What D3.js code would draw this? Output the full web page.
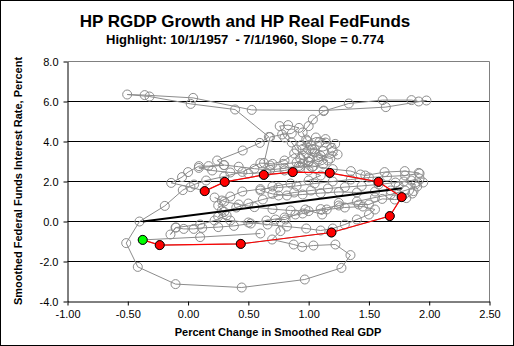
<!DOCTYPE html>
<html>
<head>
<meta charset="utf-8">
<script src="https://cdn.jsdelivr.net/npm/d3@7"></script>
<style>
  body { margin: 0; background: #fff; }
  svg { display: block; font-family: Arial, "Liberation Sans", sans-serif; }
</style>
</head>
<body>
<svg id="chart" width="514" height="346"></svg>
<script>
//
// Data
//

var title = 'HP RGDP Growth and HP Real FedFunds'
var subtitle = 'Highlight: 10/1/1957  - 7/1/1960, Slope = 0.774'
var xTitle = 'Percent Change in Smoothed Real GDP'
var yTitle = 'Smoothed Federal Funds Interest Rate, Percent'

var xTicks = [-1, -0.5, 0, 0.5, 1, 1.5, 2, 2.5]
var yTicks = [-4, -2, 0, 2, 4, 6, 8]

// highlighted quarters 10/1/1957 .. 7/1/1960 : [rgdp growth, real fed funds]
var highlight = [
  [-0.376, -0.92], [-0.235, -1.18], [0.437, -1.12], [1.189, -0.55],
  [1.673, 0.27], [1.772, 1.22], [1.579, 1.98], [1.175, 2.43],
  [0.868, 2.47], [0.628, 2.33], [0.304, 1.98], [0.138, 1.52]
]

var slope = 0.774
var intercept = 0.29

// full history, in time order
var quarters = [
  [0.60, -0.60], [0.10, -0.78],
  [-0.376, -0.92], [-0.235, -1.18], [0.437, -1.12], [1.189, -0.55],
  [1.673, 0.27], [1.772, 1.22], [1.579, 1.98], [1.175, 2.43],
  [0.868, 2.47], [0.628, 2.33], [0.304, 1.98], [0.138, 1.52],
  [0.02, 1.72], [-0.14, 1.93], [-0.05, 2.22], [0.00, 2.47], [0.09, 2.77],
  [0.17, 2.77], [0.30, 2.82], [0.42, 2.74], [0.55, 2.64], [0.68, 2.58],
  [0.80, 2.66], [0.92, 2.78], [1.03, 2.72], [1.12, 2.86], [1.16, 3.05],
  [1.08, 3.22], [0.98, 3.40], [0.95, 3.62], [1.02, 3.80], [1.09, 3.98],
  [1.14, 4.12], [1.06, 4.20], [0.99, 4.02], [0.94, 3.82], [1.03, 3.62],
  [1.12, 3.52], [1.19, 3.68], [1.22, 3.88], [1.14, 3.95], [1.05, 3.45],
  [1.10, 3.28], [1.18, 3.15], [1.24, 3.35], [1.20, 3.52], [1.08, 3.10],
  [1.00, 2.98], [0.93, 3.15], [0.88, 3.40],
  [0.80, 3.05], [0.70, 2.88], [0.60, 2.92], [0.45, 2.48], [0.30, 2.25],
  [0.15, 2.05], [0.05, 1.85], [-0.044, 1.57], [-0.193, 0.78], [-0.403, 0.00],
  [-0.513, -1.08], [-0.417, -2.27], [-0.104, -3.13], [0.445, -3.30],
  [0.968, -2.90], [1.272, -2.32], [1.347, -1.68], [1.222, -1.15],
  [1.04, -1.20], [0.946, -1.27], [0.876, -1.15], [0.697, -0.90],
  [0.766, -0.48], [0.725, 0.10], [0.808, 0.10], [0.89, 0.35], [0.973, 0.60],
  [1.112, 0.35], [1.25, 0.93], [1.415, 0.85], [1.50, 0.85], [1.61, 1.13],
  [1.714, 1.10], [1.81, 1.17], [1.86, 1.40], [1.87, 1.52], [1.885, 1.85],
  [1.79, 2.00], [1.747, 1.77], [1.68, 1.55],
  [1.55, 1.50], [1.40, 1.45], [1.25, 1.48], [1.10, 1.42], [0.95, 1.35],
  [0.82, 1.30], [0.70, 1.38], [0.60, 1.55], [0.70, 1.75], [0.85, 1.90],
  [1.00, 2.05], [1.10, 2.30], [1.00, 2.55], [0.95, 2.90], [1.00, 3.20],
  [1.05, 3.60], [0.98, 4.10], [0.95, 4.45], [1.00, 4.77], [1.035, 5.10],
  [1.125, 5.52], [1.333, 5.90], [1.614, 6.07], [1.853, 6.07], [1.913, 6.00],
  [1.977, 6.05], [1.64, 5.72], [1.125, 5.55], [0.528, 5.58], [0.042, 6.18],
  [-0.36, 6.32], [-0.505, 6.35], [-0.32, 6.25], [0.022, 5.88], [0.39, 5.60],
  [0.67, 4.23], [0.595, 3.93], [0.453, 3.55], [0.241, 3.05], [0.296, 2.82],
  [0.089, 2.68],
  [0.20, 2.55], [0.35, 2.45], [0.50, 2.40], [0.65, 2.45], [0.80, 2.55],
  [0.93, 2.72], [1.00, 3.00], [0.96, 3.30], [0.90, 3.60], [0.86, 3.95],
  [0.80, 4.20], [0.76, 4.77], [0.83, 4.82], [0.92, 4.68], [0.86, 4.40],
  [0.78, 4.35], [0.68, 4.22], [0.63, 2.93], [0.68, 2.80], [0.79, 2.88],
  [0.90, 2.95], [1.04, 2.77], [1.20, 2.62], [1.35, 2.52], [1.43, 2.35],
  [1.47, 2.30], [1.63, 2.47], [1.797, 2.52], [1.913, 2.43], [1.92, 2.40],
  [1.80, 2.30], [1.65, 2.25], [1.50, 2.20], [1.35, 2.10], [1.20, 2.00],
  [1.05, 1.90], [0.90, 1.78], [0.75, 1.70], [0.60, 1.62], [0.45, 1.50],
  [0.35, 1.25], [0.28, 1.05], [0.25, 0.80], [0.28, 0.55], [0.32, 0.30],
  [0.22, 0.05],
  [0.10, -0.15], [-0.10, -0.30], [-0.146, -0.65], [-0.104, -0.30],
  [-0.036, -0.37], [0.047, -0.37], [0.117, -0.32], [0.25, -0.28],
  [0.38, -0.22], [0.52, -0.10], [0.65, 0.05], [0.80, 0.20], [0.95, 0.40],
  [1.10, 0.62], [1.25, 0.80], [1.40, 1.00], [1.55, 1.20], [1.68, 1.35],
  [1.80, 1.55], [1.90, 1.75], [1.95, 1.95], [1.92, 2.15], [1.85, 2.05],
  [1.72, 1.95], [1.58, 1.85], [1.44, 1.78], [1.30, 1.72], [1.16, 1.65],
  [1.02, 1.55], [0.88, 1.45], [0.75, 1.30], [0.62, 1.10], [0.50, 0.90],
  [0.40, 0.70], [0.30, 0.48], [0.25, 0.25], [0.35, 0.05], [0.50, -0.05],
  [0.66, -0.15], [0.82, -0.25], [0.98, -0.35], [1.10, -0.45], [1.20, -0.35],
  [1.30, -0.15], [1.40, 0.10], [1.50, 0.35], [1.55, 0.60], [1.45, 0.75],
  [1.30, 0.70], [1.15, 0.60], [1.00, 0.52], [0.85, 0.55], [0.70, 0.62],
  [0.55, 0.72], [0.42, 0.85], [0.30, 1.00], [0.22, 1.20]
]

//
// Layout
//

var svg = d3.select('#chart')
var plotLeft = 67.5, plotRight = 489.5, plotTop = 61.5, plotBottom = 301.5

var x = d3.scaleLinear().domain([-1, 2.5]).range([plotLeft, plotRight])
var y = d3.scaleLinear().domain([-4, 8]).range([plotBottom, plotTop])

// excel style labels: plain hyphen for minus
function fmt(spec) {
  var f = d3.format(spec)
  return function (d) { return f(d).replace('\u2212', '-') }
}

svg.append('rect')
  .attr('x', 0.5).attr('y', 0.5)
  .attr('width', 513).attr('height', 345)
  .attr('fill', '#fff').attr('stroke', '#000')

// titles
svg.append('text')
  .attr('x', 245).attr('y', 27)
  .attr('text-anchor', 'middle')
  .style('font-size', '17px').style('font-weight', 'bold')
  .text(title)

svg.append('text')
  .attr('x', 245).attr('y', 44)
  .attr('text-anchor', 'middle')
  .style('font-size', '13px').style('font-weight', 'bold')
  .style('white-space', 'pre')
  .text(subtitle)

// plot frame, gridlines
svg.append('g')
  .selectAll('line')
  .data(yTicks.filter(function (d) { return d > -4 && d < 8 }))
  .join('line')
  .attr('x1', plotLeft).attr('x2', plotRight)
  .attr('y1', function (d) { return y(d) })
  .attr('y2', function (d) { return y(d) })
  .attr('stroke', '#000')

svg.append('path')
  .attr('d', 'M' + plotLeft + ',' + plotTop + 'H' + plotRight + 'V' + plotBottom)
  .attr('fill', 'none').attr('stroke', '#808080')

// axes
svg.append('g')
  .attr('transform', 'translate(' + plotLeft + ',0)')
  .call(d3.axisLeft(y).tickValues(yTicks).tickFormat(fmt('.1f'))
    .tickSizeInner(4).tickSizeOuter(0).tickPadding(5))

svg.append('g')
  .attr('transform', 'translate(0,' + plotBottom + ')')
  .call(d3.axisBottom(x).tickValues(xTicks).tickFormat(fmt('.2f'))
    .tickSizeInner(4).tickSizeOuter(0).tickPadding(5))

svg.selectAll('.tick text')
  .style('font-size', '11px')
  .style('font-family', 'Arial, "Liberation Sans", sans-serif')
  .attr('fill', '#000')
svg.selectAll('.domain, .tick line').attr('stroke', '#000')

svg.append('text')
  .attr('x', 278).attr('y', 336)
  .attr('text-anchor', 'middle')
  .style('font-size', '11px').style('font-weight', 'bold')
  .text(xTitle)

svg.append('text')
  .attr('transform', 'translate(22,181) rotate(-90)')
  .attr('text-anchor', 'middle')
  .style('font-size', '11px').style('font-weight', 'bold')
  .text(yTitle)

//
// Marks
//

var line = d3.line()
  .x(function (d) { return x(d[0]) })
  .y(function (d) { return y(d[1]) })

svg.append('path')
  .datum(quarters)
  .attr('d', line)
  .attr('fill', 'none').attr('stroke', '#8c8c8c').attr('stroke-width', 1)

svg.append('g')
  .selectAll('circle')
  .data(quarters)
  .join('circle')
  .attr('cx', function (d) { return x(d[0]) })
  .attr('cy', function (d) { return y(d[1]) })
  .attr('r', 4.5)
  .attr('fill', 'none').attr('stroke', '#8c8c8c')

// fitted line over the highlighted range
var ext = d3.extent(highlight, function (d) { return d[0] })
svg.append('path')
  .datum(ext.map(function (v) { return [v, intercept + slope * v] }))
  .attr('d', line)
  .attr('stroke', '#000').attr('stroke-width', 2)

svg.append('path')
  .datum(highlight)
  .attr('d', line)
  .attr('fill', 'none').attr('stroke', '#ff0000').attr('stroke-width', 1.2)

svg.append('g')
  .selectAll('circle')
  .data(highlight)
  .join('circle')
  .attr('cx', function (d) { return x(d[0]) })
  .attr('cy', function (d) { return y(d[1]) })
  .attr('r', 4.5)
  .attr('fill', function (d, i) { return i === 0 ? '#00ff00' : '#ff0000' })
  .attr('stroke', '#000')
</script>
</body>
</html>
